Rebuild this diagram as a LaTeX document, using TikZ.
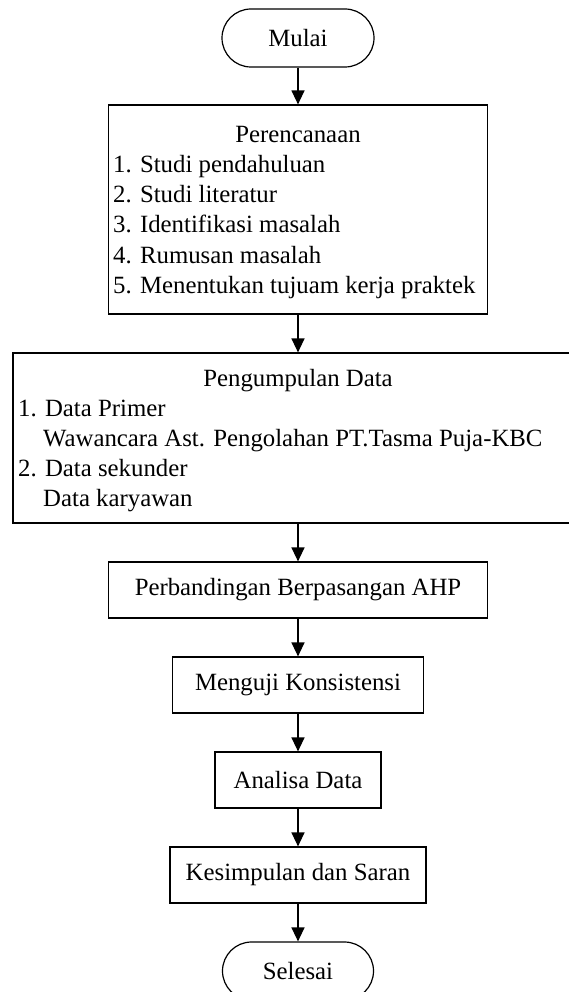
\documentclass[tikz,border=0pt]{standalone}
\usepackage{fontspec}
\setmainfont{Liberation Serif}
\usetikzlibrary{arrows.meta}
\begin{document}
\begin{tikzpicture}[x=1pt,y=-1pt,
  box/.style={draw, line width=1.2pt, inner sep=0pt, minimum width=#1, minimum height=56pt},
  term/.style={draw, line width=1.2pt, inner sep=0pt, minimum width=#1, minimum height=58pt, rounded corners=29pt},
  big/.style={draw, line width=1.2pt, inner sep=0pt},
  txt/.style={inner sep=0pt, anchor=base west},
  arr/.style={line width=1.3pt, -{Triangle[width=13pt,length=14pt]}},
  font=\fontsize{24.8}{30}\selectfont]
\useasboundingbox (0,0) rectangle (569,992);
\begin{scope}
\clip (0,0) rectangle (569,992);
\node[term=152pt] (mulai) at (298,38) {Mulai};
\node[big, minimum width=379pt, minimum height=209pt] (plan) at (298,209.5) {};
\node[inner sep=0pt, anchor=base] (plant) at (298,143) {Perencanaan};
\node[txt] (p1) at (113,173) {1. Studi pendahuluan};
\node[txt] (p2) at (113,203) {2. Studi literatur};
\node[txt] (p3) at (113,233) {3. Identifikasi masalah};
\node[txt] (p4) at (113,263) {4. Rumusan masalah};
\node[txt] (p5) at (113,293) {5. Menentukan tujuam kerja praktek};
\node[big, minimum width=570pt, minimum height=170pt] (data) at (298,438) {};
\node[inner sep=0pt, anchor=base] (datat) at (298,386) {Pengumpulan Data};
\node[txt] (d1) at (18,416) {1. Data Primer};
\node[txt] (d2) at (43,446) {Wawancara Ast. Pengolahan PT.Tasma Puja-KBC};
\node[txt] (d3) at (18,476) {2. Data sekunder};
\node[txt] (d4) at (43,506) {Data karyawan};
\node[box=379pt] (ahp) at (298,590) {Perbandingan Berpasangan AHP};
\node[box=251pt] (uji) at (298,685) {Menguji Konsistensi};
\node[box=166pt] (ana) at (298,780) {Analisa Data};
\node[box=256pt] (kes) at (298,875) {Kesimpulan dan Saran};
\node[term=151pt] (sel) at (298,971) {Selesai};
\draw[arr] (mulai) -- (plan);
\draw[arr] (plan) -- (data);
\draw[arr] (data) -- (ahp);
\draw[arr] (ahp) -- (uji);
\draw[arr] (uji) -- (ana);
\draw[arr] (ana) -- (kes);
\draw[arr] (kes) -- (sel);
\end{scope}
\end{tikzpicture}
\end{document}
